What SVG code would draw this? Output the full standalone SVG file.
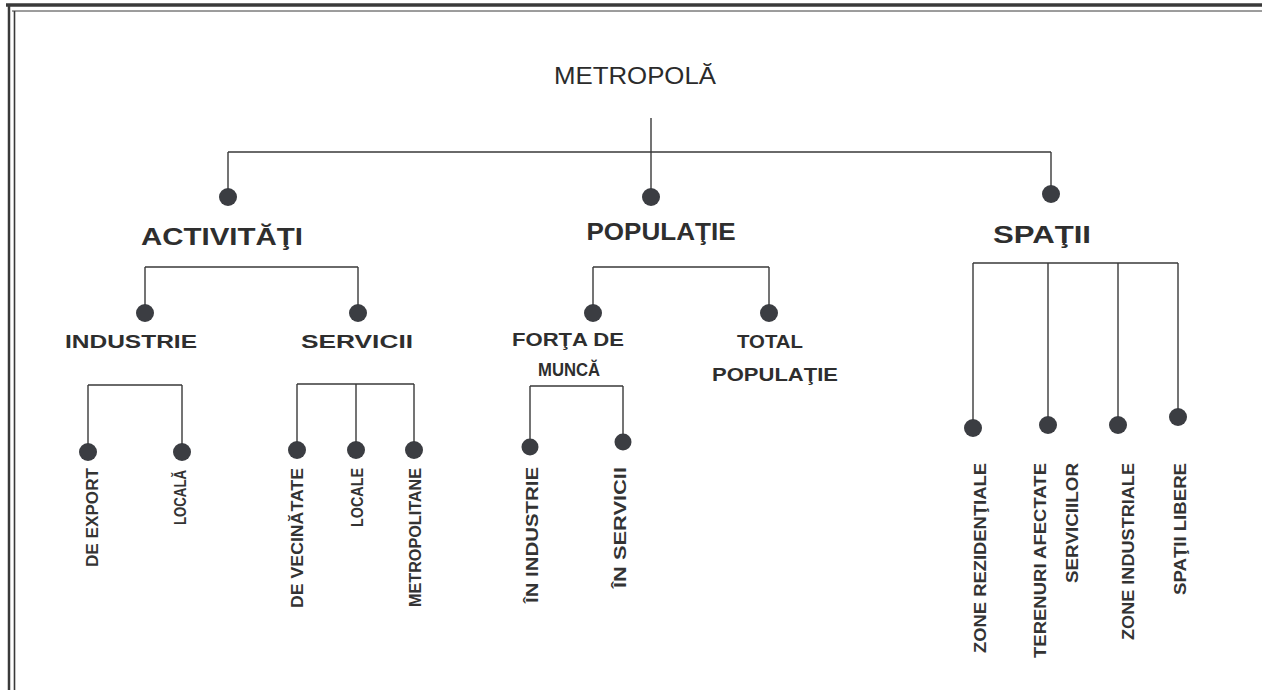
<svg xmlns="http://www.w3.org/2000/svg" width="1262" height="690" viewBox="0 0 1262 690">
  <defs>
    <style>
      .frame { stroke: #3a3a3a; fill: none; }
      .link { stroke: #3a3a3a; stroke-width: 1.4; fill: none; }
      .dot { fill: #3b3d42; }
      .title { font-family: "Liberation Sans", Arial, sans-serif; font-size: 24px; fill: #2b2b2b; }
      .h1 { font-family: "Liberation Sans", Arial, sans-serif; font-weight: bold; font-size: 24px; fill: #2e2e2e; }
      .h2 { font-family: "Liberation Sans", Arial, sans-serif; font-weight: bold; font-size: 18px; fill: #2e2e2e; }
      .leaf { font-family: "Liberation Sans", Arial, sans-serif; font-weight: bold; font-size: 16px; fill: #333333; }
    </style>
  </defs>

  <rect width="1262" height="690" fill="#ffffff"/>

  <!-- page frame -->
  <g id="frame">
    <line class="frame" x1="6" y1="5" x2="1262" y2="5" stroke-width="3.5"/>
    <line class="frame" x1="12" y1="11" x2="1262" y2="11" stroke-width="1" stroke="#9a9a9a"/>
    <line class="frame" x1="9" y1="5" x2="9" y2="690" stroke-width="2.5"/>
    <line class="frame" x1="14.5" y1="11" x2="14.5" y2="690" stroke-width="1.6"/>
  </g>

  <!-- connectors -->
  <g id="connectors">
    <path class="link" d="M651 118 V152 M228 152 H1051 M228 152 V197 M651 152 V197 M1051 152 V194"/>
    <path class="link" d="M145 267 H358 M145 267 V313 M358 267 V313"/>
    <path class="link" d="M88 385 H182 M88 385 V451 M182 385 V451"/>
    <path class="link" d="M297 384 H414 M297 384 V450 M356 384 V450 M414 384 V450"/>
    <path class="link" d="M593 267 H769 M593 267 V313 M769 267 V313"/>
    <path class="link" d="M530 386 H623 M530 386 V447 M623 386 V442"/>
    <path class="link" d="M973 263 H1178 M973 263 V428 M1048 263 V425 M1118 263 V425 M1178 263 V417"/>
  </g>

  <g id="metropola">
    <text class="title" x="635" y="84" text-anchor="middle" textLength="162" lengthAdjust="spacingAndGlyphs">METROPOLĂ</text>
  </g>

  <g id="activitati">
    <circle class="dot" cx="228" cy="197" r="9"/>
    <text class="h1" x="222" y="245" text-anchor="middle" textLength="162" lengthAdjust="spacingAndGlyphs">ACTIVITĂŢI</text>
  </g>
  <g id="populatie">
    <circle class="dot" cx="651" cy="197" r="9"/>
    <text class="h1" x="661" y="240" text-anchor="middle" textLength="149" lengthAdjust="spacingAndGlyphs">POPULAŢIE</text>
  </g>
  <g id="spatii">
    <circle class="dot" cx="1051" cy="194" r="9"/>
    <text class="h1" x="1042" y="243" text-anchor="middle" textLength="98" lengthAdjust="spacingAndGlyphs">SPAŢII</text>
  </g>

  <g id="industrie">
    <circle class="dot" cx="145" cy="313" r="9"/>
    <text class="h2" x="131" y="348" text-anchor="middle" textLength="132" lengthAdjust="spacingAndGlyphs">INDUSTRIE</text>
  </g>
  <g id="servicii">
    <circle class="dot" cx="358" cy="313" r="9"/>
    <text class="h2" x="357" y="348" text-anchor="middle" textLength="112" lengthAdjust="spacingAndGlyphs">SERVICII</text>
  </g>
  <g id="forta-de-munca">
    <circle class="dot" cx="593" cy="313" r="9"/>
    <text class="h2" x="568" y="346" text-anchor="middle" textLength="112" lengthAdjust="spacingAndGlyphs">FORŢA DE</text>
    <text class="h2" x="569" y="376" text-anchor="middle" textLength="62" lengthAdjust="spacingAndGlyphs">MUNCĂ</text>
  </g>
  <g id="total-populatie">
    <circle class="dot" cx="769" cy="313" r="9"/>
    <text class="h2" x="770" y="348" text-anchor="middle" textLength="66" lengthAdjust="spacingAndGlyphs">TOTAL</text>
    <text class="h2" x="775" y="381" text-anchor="middle" textLength="126" lengthAdjust="spacingAndGlyphs">POPULAŢIE</text>
  </g>

  <!-- vertical leaf labels, read bottom to top -->
  <g id="de-export">
    <circle class="dot" cx="88" cy="452" r="9"/>
    <text class="leaf" transform="translate(98,567) rotate(-90)" textLength="99" lengthAdjust="spacingAndGlyphs">DE EXPORT</text>
  </g>
  <g id="locala">
    <circle class="dot" cx="182" cy="452" r="9"/>
    <text class="leaf" transform="translate(186,525) rotate(-90)" textLength="55" lengthAdjust="spacingAndGlyphs">LOCALĂ</text>
  </g>
  <g id="de-vecinatate">
    <circle class="dot" cx="297" cy="450" r="9"/>
    <text class="leaf" transform="translate(303,608) rotate(-90)" textLength="140" lengthAdjust="spacingAndGlyphs">DE VECINĂTATE</text>
  </g>
  <g id="locale">
    <circle class="dot" cx="356" cy="450" r="9"/>
    <text class="leaf" transform="translate(363,527) rotate(-90)" textLength="59" lengthAdjust="spacingAndGlyphs">LOCALE</text>
  </g>
  <g id="metropolitane">
    <circle class="dot" cx="414" cy="450" r="9"/>
    <text class="leaf" transform="translate(421,607) rotate(-90)" textLength="139" lengthAdjust="spacingAndGlyphs">METROPOLITANE</text>
  </g>
  <g id="in-industrie">
    <circle class="dot" cx="530" cy="447" r="8.5"/>
    <text class="leaf" transform="translate(538,603) rotate(-90)" textLength="136" lengthAdjust="spacingAndGlyphs">ÎN INDUSTRIE</text>
  </g>
  <g id="in-servicii">
    <circle class="dot" cx="623" cy="442" r="8.5"/>
    <text class="leaf" transform="translate(626,588) rotate(-90)" textLength="121" lengthAdjust="spacingAndGlyphs">ÎN SERVICII</text>
  </g>
  <g id="zone-rezidentiale">
    <circle class="dot" cx="973" cy="428" r="9"/>
    <text class="leaf" transform="translate(986,653) rotate(-90)" textLength="190" lengthAdjust="spacingAndGlyphs">ZONE REZIDENŢIALE</text>
  </g>
  <g id="terenuri-afectate-serviciilor">
    <circle class="dot" cx="1048" cy="425" r="9"/>
    <text class="leaf" transform="translate(1046,658) rotate(-90)" textLength="195" lengthAdjust="spacingAndGlyphs">TERENURI AFECTATE</text>
    <text class="leaf" transform="translate(1078,583) rotate(-90)" textLength="120" lengthAdjust="spacingAndGlyphs">SERVICIILOR</text>
  </g>
  <g id="zone-industriale">
    <circle class="dot" cx="1118" cy="425" r="9"/>
    <text class="leaf" transform="translate(1134,640) rotate(-90)" textLength="177" lengthAdjust="spacingAndGlyphs">ZONE INDUSTRIALE</text>
  </g>
  <g id="spatii-libere">
    <circle class="dot" cx="1178" cy="417" r="9"/>
    <text class="leaf" transform="translate(1186,595) rotate(-90)" textLength="132" lengthAdjust="spacingAndGlyphs">SPAŢII LIBERE</text>
  </g>
</svg>
